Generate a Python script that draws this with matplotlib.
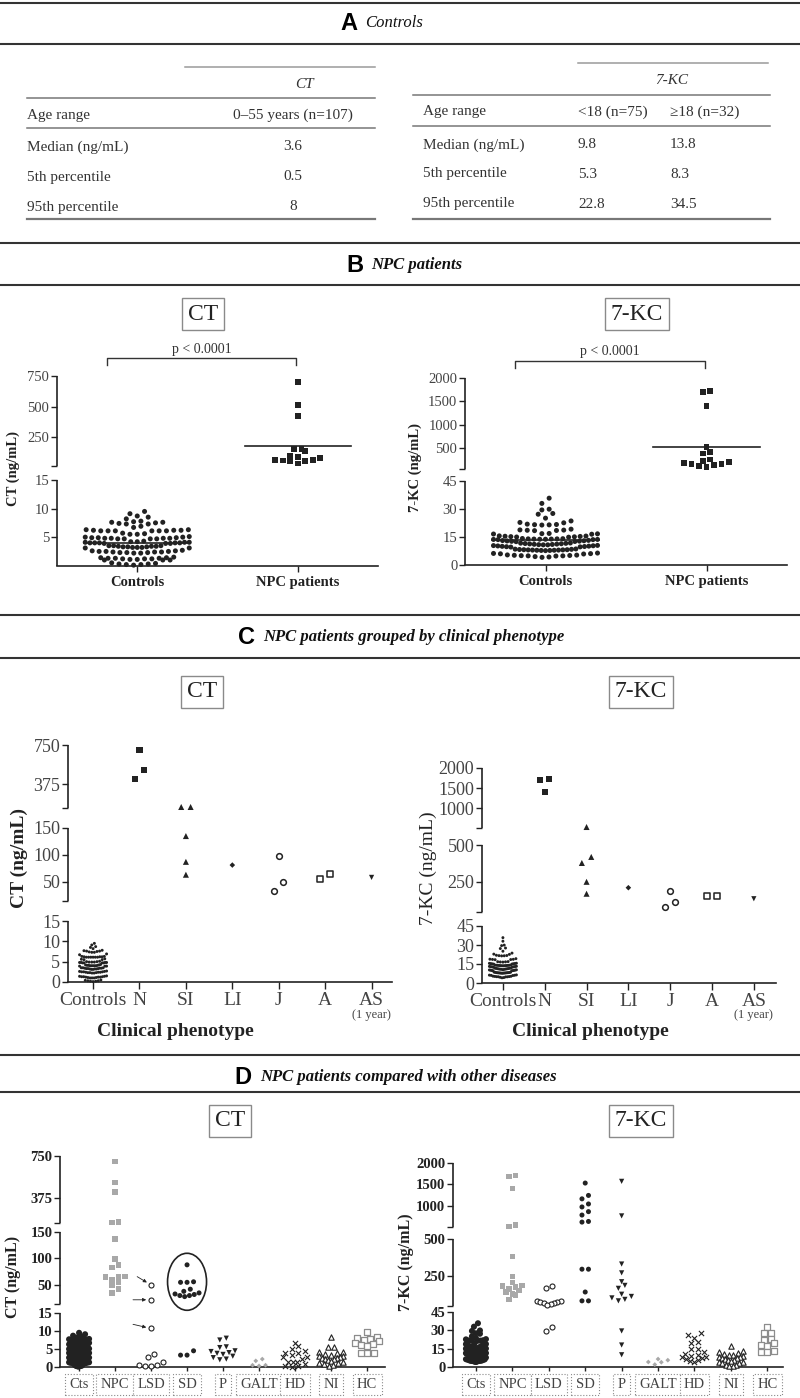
import numpy as np
import matplotlib

matplotlib.use("Agg")
import matplotlib.pyplot as plt
from matplotlib.lines import Line2D
from matplotlib.patches import Ellipse
from matplotlib.ticker import NullFormatter
from matplotlib.transforms import blended_transform_factory, ScaledTranslation

W, H = 800, 1398
SERIF = ["Liberation Serif", "DejaVu Serif"]
SANS = ["Liberation Sans", "DejaVu Sans"]
INK = "#222222"
TICK_TXT = "#444444"
LIGHT = "#a8a8a8"

plt.rcParams["font.family"] = SERIF

# ---------------- data ----------------
# panel A (reference values of controls)
TABLE_ROWS = ["Age range", "Median (ng/mL)", "5th percentile", "95th percentile"]
CT_COL = ["0\u201355 years (n=107)", "3.6", "0.5", "8"]
KC_YOUNG = ["<18 (n=75)", "9.8", "5.3", "22.8"]
KC_ADULT = ["\u226518 (n=32)", "13.8", "8.3", "34.5"]

# control subjects (ng/mL)
CT_CONTROLS = [
    0.5, 0.4, 0.3, 0.3, 0.2, 0.2, 0.1,
    1.5, 1.4, 1.4, 1.3, 1.3, 1.3, 1.2, 1.2, 1.2, 1.1, 1.1, 1.0, 1.0, 1.0,
    2.7, 2.6, 2.6, 2.5, 2.5, 2.5, 2.4, 2.4, 2.4, 2.3, 2.3, 2.3, 2.2, 2.2,
    3.5, 3.5, 3.5, 3.4, 3.4, 3.4, 3.3, 3.3, 3.3, 3.2, 3.2, 3.2, 3.1, 3.1,
    4.3, 4.2, 4.2, 4.1, 4.1, 4.1, 4.0, 4.0, 4.0, 4.0, 4.0, 3.9, 3.9, 3.9,
    5.1, 5.0, 5.0, 4.9, 4.9, 4.9, 4.8, 4.8, 4.8, 4.8, 4.7, 4.7, 4.7, 4.7,
    5.7, 5.6, 5.5, 5.5,
    6.3, 6.3, 6.2, 6.2, 6.2, 6.1, 6.1, 6.1, 6.1, 6.1, 6.1,
    6.9, 6.7,
    7.8, 7.7, 7.6, 7.6, 7.5, 7.4, 7.3, 7.3,
    8.2, 8.7, 8.5, 9.1, 9.5,
]
KC_CONTROLS = [
    35.8, 33.0, 29.9, 29.5, 27.6, 27.2, 25.1, 23.6, 22.8, 22.6,
    21.9, 21.7, 21.6, 21.5, 21.4,
    19.2, 18.8, 18.7, 18.6, 18.5, 18.4,
    16.9, 16.8, 16.7, 16.6, 16.5,
    15.6, 15.5, 15.4, 15.3, 15.2, 15.1, 15.0, 14.9,
    14.2, 14.1, 14.0, 14.0, 13.9, 13.9, 13.8, 13.8, 13.7, 13.7, 13.6, 13.6,
    13.2, 13.1, 13.0, 12.9, 12.8, 12.7, 12.6, 12.5,
    11.8, 11.7, 11.6, 11.5, 11.4, 11.3, 11.2, 11.1, 11.0, 10.9, 10.8, 10.8,
    10.5, 10.4, 10.3, 10.2, 10.1, 10.0, 9.9, 9.8, 9.7, 9.6,
    8.6, 8.5, 8.4, 8.3, 8.2, 8.2, 8.1, 8.1, 8.0, 8.0, 7.9, 7.9, 7.8, 7.8, 7.7,
    6.4, 6.2, 6.1, 6.0, 5.9,
    5.4, 5.3, 5.2, 5.1, 5.0, 4.9, 4.9, 4.8,
    4.5, 4.3, 4.1,
]

# panel C: NPC patients by clinical phenotype
PHENOTYPES = ["N", "SI", "LI", "J", "A", "AS"]
CT_PHENO = [[702, 510, 423], [155, 155, 135, 87, 63], [81], [98, 50, 33], [55, 65], [58]]
KC_PHENO = [[1725, 1700, 1400], [525, 419, 378, 250, 169], [210], [190, 115, 81],
            [155, 155], [135]]
# panel B uses the same patients pooled
CT_NPC = [v for grp in CT_PHENO for v in grp]
KC_NPC = [v for grp in KC_PHENO for v in grp]

# panel D: other diseases
DISEASES = ["Cts", "NPC", "LSD", "SD", "P", "GALT", "HD", "NI", "HC"]
CT_DISEASE = [
    CT_CONTROLS,
    [700, 512, 430, 160, 155, 137, 99, 88, 83, 66, 65, 65, 60, 55, 50, 42, 35],
    [50, 22, 10.7, 3.5, 2.9, 1.4, 0.6, 0.5, 0.3, 0.2],
    [88, 56, 55, 55, 42, 38, 35, 33, 32, 30, 30, 28, 4.5, 3.3, 3.3],
    [8, 7.5, 5.6, 5.4, 4.5, 4.3, 4, 3.8, 3.5, 3, 2.6, 2.2, 2],
    [2.2, 1.7, 0.5, 0.3, 0.5],
    [6.8, 5.8, 5, 4.5, 3.9, 3.9, 3.3, 2.8, 2.8, 2.2, 1.5, 1.5, 1.5, 0.8, 0.3, 0.2, 0.1],
    [8.4, 5.6, 5.6, 4.2, 4.2, 3.8, 3.5, 3.3, 3.1, 3.0, 2.8, 2.6, 2.5, 2.3, 2.1, 2.0,
     1.8, 1.5, 1.2, 1.0, 0.8, 0.5, 0.2],
    [9.8, 8.3, 8.1, 7.8, 7.5, 7.2, 6.8, 6.3, 6.1, 5.9, 4.0, 4.0, 4.0],
]
KC_DISEASE = [
    KC_CONTROLS,
    [1710, 1680, 1400, 550, 515, 380, 245, 205, 185, 180, 175, 160, 150, 140, 125, 120, 90],
    [178, 170, 82, 78, 74, 70, 66, 62, 58, 55, 32.5, 29.5],
    [1530, 1240, 1160, 1040, 970, 860, 780, 630, 615, 295, 295, 140, 80, 80],
    [1570, 760, 330, 270, 210, 185, 165, 125, 110, 100, 90, 80, 29.5, 18, 10],
    [6.5, 5.6, 4.1, 3.9, 2.0],
    [27.5, 26, 23.5, 20.2, 19.4, 14.7, 14.7, 12, 11, 10, 9, 8.5, 8, 7, 6.5, 6, 5, 4.5],
    [17, 13, 12, 11.5, 11, 10, 9.5, 9, 8.5, 8, 7.5, 7, 6.5, 6, 5.5, 5, 4.5, 4, 3.5, 3,
     2, 1.5, 1, 0.5],
    [33, 28, 27.5, 22.6, 22, 19.8, 18, 17, 13, 12.5, 12],
]

# marker styles: (marker, size, face, edge, lw)
PHENO_STYLE = [("s", 19, INK, "none", 0), ("^", 19, INK, "none", 0), ("D", 8, INK, "none", 0),
               ("o", 17, "white", INK, 1.1), ("s", 17, "white", INK, 1.1), ("v", 14, INK, "none", 0)]
DISEASE_STYLE = [("o", 19, INK, "none", 0), ("s", 16, LIGHT, "none", 0),
                 ("o", 13, "white", INK, 0.8), ("o", 13, INK, "none", 0),
                 ("v", 14, INK, "none", 0), ("D", 6, LIGHT, "none", 0),
                 ("x", 14, INK, INK, 0.8), ("^", 15, "white", INK, 0.8),
                 ("s", 16, "white", "#8c8c8c", 0.9)]

fig = plt.figure(figsize=(W / 100, H / 100), dpi=100)


def fx(px):
    return px / W


def fy(py):
    return 1 - py / H


def text(x, y, s, **kw):
    kw.setdefault("ha", "center")
    kw.setdefault("va", "center")
    return fig.text(fx(x), fy(y), s, **kw)


def hline(y, x0=0, x1=W, color="#333333", lw=1.5):
    fig.add_artist(Line2D([fx(x0), fx(x1)], [fy(y), fy(y)], color=color, lw=lw))


def header(y, letter, title, x_title, bold=True):
    text(x_title - 8, y, letter, family=SANS, weight="bold", fontsize=17, ha="right")
    text(x_title, y, title, style="italic", weight="bold" if bold else "normal",
         fontsize=12, ha="left", color="#111111")


def boxed(x, y, s):
    text(x, y, s, fontsize=17, color="#222222",
         bbox=dict(boxstyle="square,pad=0.25", fc="white", ec="#8a8a8a", lw=1))


def broken_axis(x0, x1, segs, xlim, major, labelsize, bold=False):
    """segs: (lo, hi, pixel y of lo, pixel y of hi), bottom segment first."""
    yb, yt = segs[0][2], segs[-1][3]
    ax = fig.add_axes([fx(x0), fy(yb), fx(x1) - fx(x0), fy(yt) - fy(yb)])
    knots, fr, minor = [], [], []
    for i, (lo, hi, plo, phi) in enumerate(segs):
        if i > 0:
            lo = lo + 1e-6
            minor.append(lo)
        knots += [lo, hi]
        fr += [(yb - plo) / (yb - yt), (yb - phi) / (yb - yt)]
    knots, fr = np.array(knots, float), np.array(fr, float)
    ax.set_yscale("function", functions=(lambda v: np.interp(v, knots, fr),
                                         lambda u: np.interp(u, fr, knots)))
    ax.set_ylim(knots[0], knots[-1])
    ax.set_xlim(*xlim)
    ax.patch.set_alpha(0)
    for s in ("left", "top", "right"):
        ax.spines[s].set_visible(False)
    ax.spines["bottom"].set_color(INK)
    ax.spines["bottom"].set_linewidth(1.2)
    ytr = ax.get_yaxis_transform()
    for k in range(0, len(knots), 2):
        ax.plot([0, 0], [knots[k], knots[k + 1]], transform=ytr, color=INK, lw=1.2,
                clip_on=False, solid_capstyle="butt")
    ax.set_yticks(major, [f"{t:g}" for t in major])
    ax.set_yticks(minor, minor=True)
    ax.yaxis.set_minor_formatter(NullFormatter())
    ax.tick_params(axis="y", which="both", direction="out", length=4, width=1,
                   color=INK, pad=1.5, labelsize=labelsize,
                   labelcolor=INK if bold else TICK_TXT)
    ax.tick_params(axis="x", direction="out", length=4, width=1, color=INK)
    if bold:
        for lab in ax.get_yticklabels():
            lab.set_fontweight("bold")
    return ax


def swarm(ax, xc, vals, dx, span, width):
    """GraphPad-like rows: points within `span` px share a row, lowest in the middle."""
    ypx = ax.transData.transform(np.column_stack([np.full(len(vals), xc), vals]))[:, 1]
    ppx = ax.transData.transform([(1, 0)])[0, 0] - ax.transData.transform([(0, 0)])[0, 0]
    order = np.argsort(ypx, kind="stable")
    xs = np.full(len(vals), float(xc))
    i = 0
    while i < len(order):
        j = i
        while j < len(order) and ypx[order[j]] - ypx[order[i]] <= span:
            j += 1
        row = order[i:j]
        n = len(row)
        step = dx if n < 2 or (n - 1) * dx <= width else width / (n - 1)
        slots = (np.arange(n) - (n - 1) / 2) * step
        slots = slots[np.argsort(np.abs(slots) + 1e-9 * slots, kind="stable")]
        xs[row] = xc + slots / ppx
        i = j
    return xs


def dots(ax, xc, vals, style, dx, span, width):
    marker, size, face, edge, lw = style
    vals = np.asarray(vals, float)
    xs = swarm(ax, xc, vals, dx, span, width)
    if marker == "x":
        ax.scatter(xs, vals, s=size, marker="x", color=edge, linewidths=lw,
                   clip_on=False, zorder=3)
    else:
        ax.scatter(xs, vals, s=size, marker=marker, facecolors=face, edgecolors=edge,
                   linewidths=lw, clip_on=False, zorder=3)
    return xs


# ---------------- section rules and headers ----------------
for y in (3, 44, 243, 285, 615, 658, 1055, 1092):
    hline(y)
header(23, "A", "Controls", 365, bold=False)
header(265, "B", "NPC patients", 371)
header(637, "C", "NPC patients grouped by clinical phenotype", 263)
header(1077, "D", "NPC patients compared with other diseases", 260)

# ---------------- panel A: tables ----------------
TAB_FS = 11
TAB_COL = "#333333"
hline(67, 185, 375, color="#9a9a9a", lw=1.1)
text(304, 84, "CT", style="italic", fontsize=TAB_FS, color=TAB_COL)
for y in (98, 128):
    hline(y, 27, 375, color="#777777", lw=1.1)
hline(219, 27, 375, color="#777777", lw=1.6)
for y, lab, val in zip((115, 147, 177, 207), TABLE_ROWS, CT_COL):
    text(27, y, lab, ha="left", fontsize=TAB_FS, color=TAB_COL)
    text(293, y, val, fontsize=TAB_FS, color=TAB_COL)

hline(63, 578, 768, color="#9a9a9a", lw=1.1)
text(672, 80, "7-KC", style="italic", fontsize=TAB_FS, color=TAB_COL)
for y in (95, 126):
    hline(y, 413, 770, color="#777777", lw=1.1)
hline(219, 413, 770, color="#777777", lw=1.6)
for y, lab, a, b in zip((112, 145, 174, 204), TABLE_ROWS, KC_YOUNG, KC_ADULT):
    text(423, y, lab, ha="left", fontsize=TAB_FS, color=TAB_COL)
    text(578, y, a, ha="left", fontsize=TAB_FS, color=TAB_COL)
    text(670, y, b, ha="left", fontsize=TAB_FS, color=TAB_COL)

# ---------------- panel B ----------------
B_GROUPS = ["Controls", "NPC patients"]
b_specs = [
    ("CT", 203, 57, 378, [(0, 15, 565.7, 480), (15, 750, 465.7, 376)],
     [5, 10, 15, 250, 500, 750], CT_CONTROLS, CT_NPC, 358, 13, "CT (ng/mL)"),
    ("7-KC", 637, 465, 787, [(0, 45, 565, 481), (45, 2000, 469, 378)],
     [0, 15, 30, 45, 500, 1000, 1500, 2000], KC_CONTROLS, KC_NPC, 361, 415,
     "7-KC (ng/mL)"),
]
for name, bx, x0, x1, segs, ticks, ctl, npc, bry, ylx, ylab in b_specs:
    boxed(bx, 314, name)
    ax = broken_axis(x0, x1, segs, (-0.5, 1.5), ticks, 10.5)
    ax.set_xticks([0, 1], B_GROUPS)
    for lab in ax.get_xticklabels():
        lab.set_fontweight("bold")
        lab.set_fontsize(10.5)
        lab.set_color(INK)
    dots(ax, 0, ctl, ("o", 13, INK, "none", 0), dx=7.3, span=5.5, width=104)
    dots(ax, 1, npc, ("s", 18, INK, "none", 0), dx=7.5, span=6, width=60)
    for i, grp in enumerate((ctl, npc)):
        m = np.mean(grp)
        ax.plot([i - 0.33, i + 0.33], [m, m], color=INK, lw=1.2, zorder=4, clip_on=False)
    tr = blended_transform_factory(ax.transData, fig.transFigure)
    ax.plot([-0.19, -0.19, 0.99, 0.99], [fy(bry + 7), fy(bry), fy(bry), fy(bry + 7)],
            transform=tr, color="#333333", lw=1, clip_on=False)
    ax.text(0.4, fy(bry - 9), "p < 0.0001", transform=tr, ha="center", va="center",
            fontsize=10, color="#333333")
    text(ylx, 468, ylab, rotation=90, weight="bold", fontsize=10.5, color=INK)

# ---------------- panel C ----------------
C_LABELS = ["Controls"] + PHENOTYPES
c_specs = [
    ("CT", 202, 68, 392, (-0.54, 6.44),
     [(0, 15, 982, 921), (15, 150, 900.5, 828), (150, 750, 807.5, 745)],
     [0, 5, 10, 15, 50, 100, 150, 375, 750], CT_CONTROLS, CT_PHENO, 19, 858,
     "CT (ng/mL)", "bold", 175, 372),
    ("7-KC", 641, 482, 776, (-0.5, 6.53),
     [(0, 45, 983, 926), (45, 500, 912, 845), (500, 2000, 828, 768)],
     [0, 15, 30, 45, 250, 500, 1000, 1500, 2000], KC_CONTROLS, KC_PHENO, 428, 868,
     "7-KC (ng/mL)", "normal", 590, 754),
]
for name, bx, x0, x1, xlim, segs, ticks, ctl, groups, ylx, yly, ylab, ylw, clx, asx in c_specs:
    boxed(bx, 692, name)
    ax = broken_axis(x0, x1, segs, xlim, ticks, 13)
    ax.set_xticks(range(len(C_LABELS)), C_LABELS)
    ax.tick_params(axis="x", labelsize=14, labelcolor=TICK_TXT, pad=2, length=5)
    dots(ax, 0, ctl, ("o", 4.5, INK, "none", 0), dx=2.6, span=3.5, width=27)
    for i, (grp, st) in enumerate(zip(groups, PHENO_STYLE), start=1):
        dots(ax, i, grp, st, dx=9.4, span=10, width=30)
    tr = blended_transform_factory(ax.transData, fig.transFigure)
    ax.text(len(C_LABELS) - 1, fy(1015), "(1 year)", transform=tr, ha="center",
            va="center", fontsize=9, color=TICK_TXT)
    text(ylx, yly, ylab, rotation=90, weight=ylw, fontsize=14, color=INK)
    text(clx, 1031, "Clinical phenotype", weight="bold", fontsize=14, color=INK)

# ---------------- panel D ----------------
d_specs = [
    ("CT", 230, 60, 385, (-0.53, 8.5),
     [(0, 15, 1367, 1313), (15, 150, 1303.5, 1232), (150, 750, 1223, 1156)],
     [0, 5, 10, 15, 50, 100, 150, 375, 750], CT_DISEASE, 13, 1277, "CT (ng/mL)"),
    ("7-KC", 641, 453, 783, (-0.63, 8.43),
     [(0, 45, 1367, 1312), (45, 500, 1306, 1239), (500, 2000, 1227, 1163)],
     [0, 15, 30, 45, 250, 500, 1000, 1500, 2000], KC_DISEASE, 406, 1262,
     "7-KC (ng/mL)"),
]
for name, bx, x0, x1, xlim, segs, ticks, groups, ylx, yly, ylab in d_specs:
    boxed(bx, 1121, name)
    ax = broken_axis(x0, x1, segs, xlim, ticks, 10.5, bold=True)
    ax.set_xticks(range(len(DISEASES)), DISEASES)
    ax.tick_params(axis="x", labelsize=10.5, labelcolor=TICK_TXT, pad=5, length=3)
    for lab in ax.get_xticklabels():
        lab.set_bbox(dict(boxstyle="square,pad=0.3", fc="white", ec="#8a8a8a",
                          ls=":", lw=0.8))
    for i, (grp, st) in enumerate(zip(groups, DISEASE_STYLE)):
        if i == 0:
            dots(ax, i, grp, st, dx=4, span=4.5, width=20)
        else:
            dots(ax, i, grp, st, dx=6.5, span=5, width=24)
    text(ylx, yly, ylab, rotation=90, weight="bold", fontsize=11.5, color=INK)
    if name == "CT":
        # arrows flag the three LSD patients with raised CT
        for v, (ox, oy) in zip([x for x in groups[2] if x > 10],
                               [(-10, 6), (-13, 0), (-13, 3)]):
            ax.annotate("", xy=(2, v), xytext=(ox, oy), textcoords="offset points",
                        arrowprops=dict(arrowstyle="-|>", lw=0.6, color=INK,
                                        shrinkA=0, shrinkB=3.5, mutation_scale=5))
        # ellipse round the SD patients
        sd_tr = fig.dpi_scale_trans + ScaledTranslation(3, 56, ax.transData)
        ax.add_artist(Ellipse((0, 0), 0.39, 0.57, transform=sd_tr, fill=False,
                              ec=INK, lw=1.2, clip_on=False))

fig.savefig("out.png", dpi=100)
